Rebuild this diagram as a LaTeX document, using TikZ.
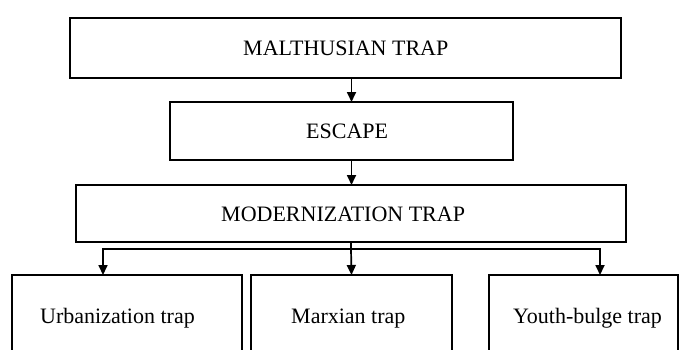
\documentclass[tikz,border=0pt]{standalone}
\usepackage{fontspec}
\setmainfont{Liberation Serif}
\usetikzlibrary{arrows.meta}
\begin{document}
\begin{tikzpicture}[x=1pt,y=-1pt,
  box/.style={draw, line width=1.7pt, inner sep=0pt, outer sep=0pt, anchor=north west},
  lbl/.style={font=\fontsize{22}{26}\selectfont, inner sep=0pt, anchor=base west},
  link/.style={line width=1.7pt},
  arr/.style={line width=1.7pt, -{Triangle[width=9pt,length=10pt]}}]
\useasboundingbox (0,0) rectangle (679,349);
\clip (0,0) rectangle (679,349);
% boxes
\node[box, line width=2.2pt, minimum width=551pt, minimum height=60pt] (mal) at (70,18) {};
\node[box, minimum width=343pt, minimum height=58pt] (esc) at (170,102) {};
\node[box, minimum width=550pt, minimum height=57pt] (mod) at (76,185) {};
\node[box, minimum width=230pt, minimum height=120pt] (urb) at (12,275) {};
\node[box, minimum width=201pt, minimum height=120pt] (mar) at (251,275) {};
\node[box, minimum width=189pt, minimum height=120pt] (yb) at (489,275) {};
% labels
\node[lbl] (tmal) at (243,55) {MALTHUSIAN TRAP};
\node[lbl] (tesc) at (306,138) {ESCAPE};
\node[lbl] (tmod) at (221,221) {MODERNIZATION TRAP};
\node[lbl] (turb) at (40,323) {Urbanization trap};
\node[lbl] (tmar) at (291,323) {Marxian trap};
\node[lbl] (tyb) at (513,323) {Youth-bulge trap};
% connectors
\draw[arr] (mal.south -| mar.north) -- (esc.north -| mar.north);
\draw[arr] (esc.south -| mar.north) -- (mod.north -| mar.north);
\coordinate (j) at (351,249);
\coordinate (ta) at (103,275);
\coordinate (tc) at (600,275);
\draw[link] (mod.south -| j) -- (j);
\draw[arr] (j) -| (ta);
\draw[arr] (j) -| (tc);
\draw[arr] (j) -- (mar.north);
\end{tikzpicture}
\end{document}
